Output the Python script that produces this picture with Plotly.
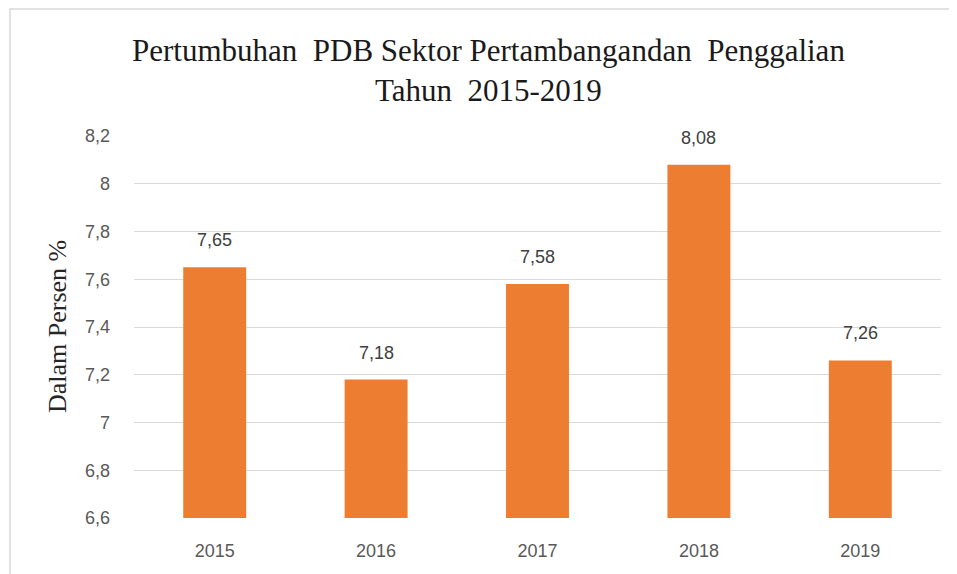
import plotly.graph_objects as go

years = ["2015", "2016", "2017", "2018", "2019"]
values = [7.65, 7.18, 7.58, 8.08, 7.26]
value_labels = ["7,65", "7,18", "7,58", "8,08", "7,26"]
y_ticks = [6.6, 6.8, 7.0, 7.2, 7.4, 7.6, 7.8, 8.0, 8.2]
y_tick_labels = ["6,6", "6,8", "7", "7,2", "7,4", "7,6", "7,8", "8", "8,2"]
title_text = "Pertumbuhan&nbsp; PDB Sektor Pertambangandan&nbsp; Penggalian<br>Tahun&nbsp; 2015-2019"

SANS = "Liberation Sans, Arial"
SERIF = "Liberation Serif, Times New Roman"

# figure is offset by the page's 8px body margin; margins compensate
ML, MR, MT, MB = 126, 24, 128, 64
PW = 957 - ML - MR
PH = 574 - MT - MB

fig = go.Figure(go.Bar(
    x=years, y=values,
    marker=dict(color="#ED7D31", line=dict(width=0)),
    hoverinfo="x+y",
))

# value labels, placed on the category axis by category index
annotations = [
    dict(x=i, y=v, text=lab, xref="x", yref="y", showarrow=False,
         yanchor="bottom", yshift=15,
         font=dict(family=SANS, size=18, color="#404040"))
    for i, (v, lab) in enumerate(zip(values, value_labels))
]
annotations.append(dict(
    text="Dalam Persen %", xref="paper", yref="paper",
    x=(49 - ML) / PW, y=0.5, xanchor="center", yanchor="middle",
    textangle=-90, showarrow=False,
    font=dict(family=SERIF, size=26, color="#262626"),
))
annotations.append(dict(
    text=title_text, xref="paper", yref="paper",
    x=(480 - ML) / PW, y=1 + (MT - 62) / PH, xanchor="center", yanchor="middle",
    showarrow=False, align="center",
    font=dict(family=SERIF, size=31, color="#1a1a1a"),
))

fig.update_layout(
    width=957, height=574,
    margin=dict(l=ML, r=MR, t=MT, b=MB),
    paper_bgcolor="white", plot_bgcolor="white",
    bargap=0.61,
    showlegend=False,
    xaxis=dict(
        type="category", categoryorder="array", categoryarray=years,
        range=[-0.5, len(years) - 0.5], autorange=False,
        showgrid=False, showline=False, ticks="",
        ticklabelstandoff=20,
        tickfont=dict(family=SANS, size=18, color="#595959"),
    ),
    yaxis=dict(
        range=[6.6, 8.2], tickvals=y_ticks, ticktext=y_tick_labels,
        showgrid=True, gridcolor="#d9d9d9", gridwidth=1, zeroline=False,
        tickfont=dict(family=SANS, size=18, color="#595959"),
        ticklabelstandoff=23,
    ),
    annotations=annotations,
    shapes=[dict(type="rect", xref="paper", yref="paper",
                 x0=(2 - ML) / PW, x1=(980 - ML) / PW,
                 y0=-(600 - (574 - MB)) / PH, y1=1 + (MT - 1) / PH,
                 line=dict(color="#d9d9d9", width=1.5), fillcolor="rgba(0,0,0,0)", layer="below")],
)

fig.write_html("out.html")
